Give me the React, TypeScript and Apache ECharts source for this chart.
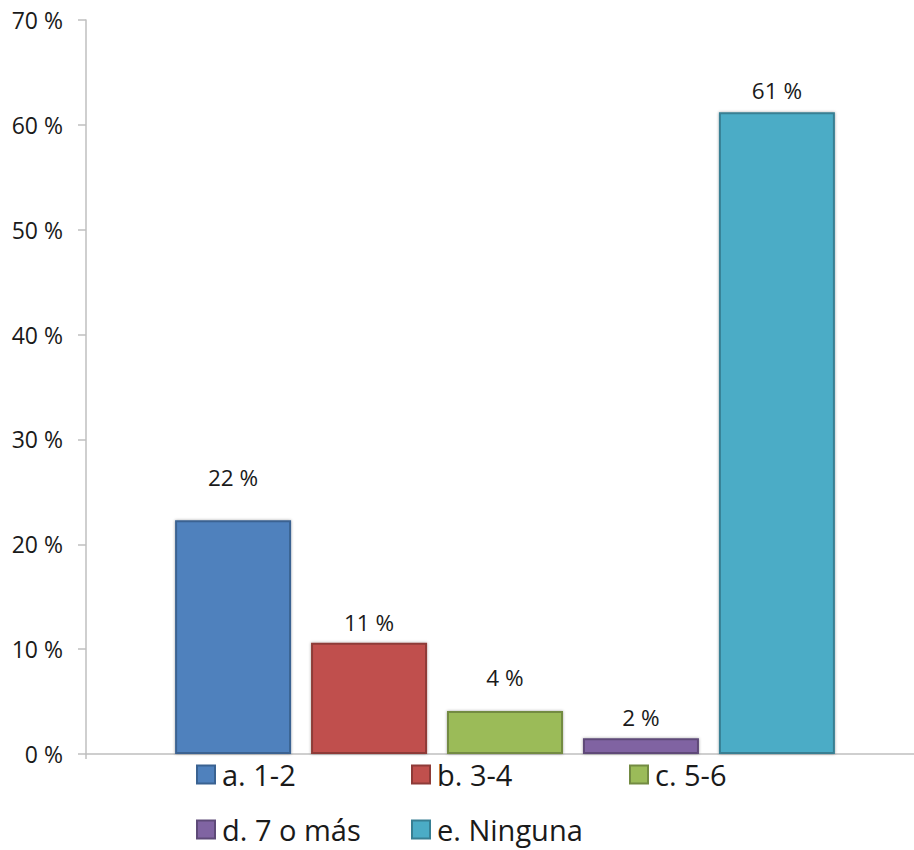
import React, { useEffect, useRef } from "react";
import * as echarts from "echarts";

const seriesNames = ["a. 1-2", "b. 3-4", "c. 5-6", "d. 7 o más", "e. Ninguna"];
const seriesValues = [22.3, 10.6, 4.1, 1.5, 61.2];
const seriesColors = ["#4F81BD", "#C0504D", "#9BBB59", "#8064A2", "#4BACC6"];
const seriesBorders = ["#3A6291", "#8E3B38", "#738B42", "#5E4A78", "#377F93"];
const labelDistances = [31, 9, 22, 9, 10];
const categories = [""];
const yTicks = { min: 0, max: 70, interval: 10 };

// legend layout (pixels)
const legendPos = [
  [196, 760],
  [411, 760],
  [629, 760],
  [196, 815],
  [411, 815],
];

const FONT = "'Open Sans', 'Noto Sans', sans-serif";

export default function App() {
  const ref = useRef<HTMLDivElement>(null);
  useEffect(() => {
    if (!ref.current) return;
    const chart = echarts.init(ref.current, null, { renderer: "svg" });
    const series = seriesNames.map((name, i) => ({
      name,
      type: "bar",
      data: [seriesValues[i]],
      barWidth: 116,
      barGap: "17.2%",
      itemStyle: {
        color: seriesColors[i],
        borderColor: seriesBorders[i],
        borderWidth: 2,
        shadowColor: "rgba(0,0,0,0.35)",
        shadowBlur: 3,
      },
      label: {
        show: true,
        position: "top",
        distance: labelDistances[i],
        formatter: (p: any) => `${Math.round(p.value)} %`,
        fontFamily: FONT,
        fontSize: 22.5,
        color: "#1a1a1a",
      },
    }));
    const legends = seriesNames.map((name, i) => ({
      orient: "horizontal",
      left: legendPos[i][0],
      top: legendPos[i][1],
      padding: 0,
      itemWidth: 18,
      itemHeight: 18,
      icon: "rect",
      data: [name],
      textStyle: {
        fontFamily: FONT,
        fontSize: 29,
        color: "#1a1a1a",
        padding: [0, 0, 0, 2],
      },
    }));
    chart.setOption({
      animation: false,
      backgroundColor: "#ffffff",
      grid: { left: 86, top: 20, right: 10, height: 734, containLabel: false },
      legend: legends,
      xAxis: {
        type: "category",
        data: categories,
        axisLine: { show: true, lineStyle: { color: "#BFBFBF", width: 1.5 } },
        axisTick: { show: true, length: 5, lineStyle: { color: "#BFBFBF", width: 1.5 } },
        axisLabel: { show: false },
      },
      yAxis: {
        type: "value",
        min: yTicks.min,
        max: yTicks.max,
        interval: yTicks.interval,
        axisLine: { show: true, lineStyle: { color: "#BFBFBF", width: 1.5 } },
        axisTick: { show: true, length: 8, lineStyle: { color: "#BFBFBF", width: 1.5 } },
        splitLine: { show: false },
        axisLabel: {
          formatter: "{value} %",
          fontFamily: FONT,
          fontSize: 23,
          color: "#1a1a1a",
          margin: 23,
        },
      },
      series,
    });
    return () => chart.dispose();
  }, []);
  return (
    <div style={{ position: "fixed", left: 0, top: 0, width: 914, height: 850, overflow: "hidden", background: "#fff" }}>
      <div ref={ref} style={{ position: "absolute", left: 0, top: 0, width: 934, height: 850 }} />
    </div>
  );
}
